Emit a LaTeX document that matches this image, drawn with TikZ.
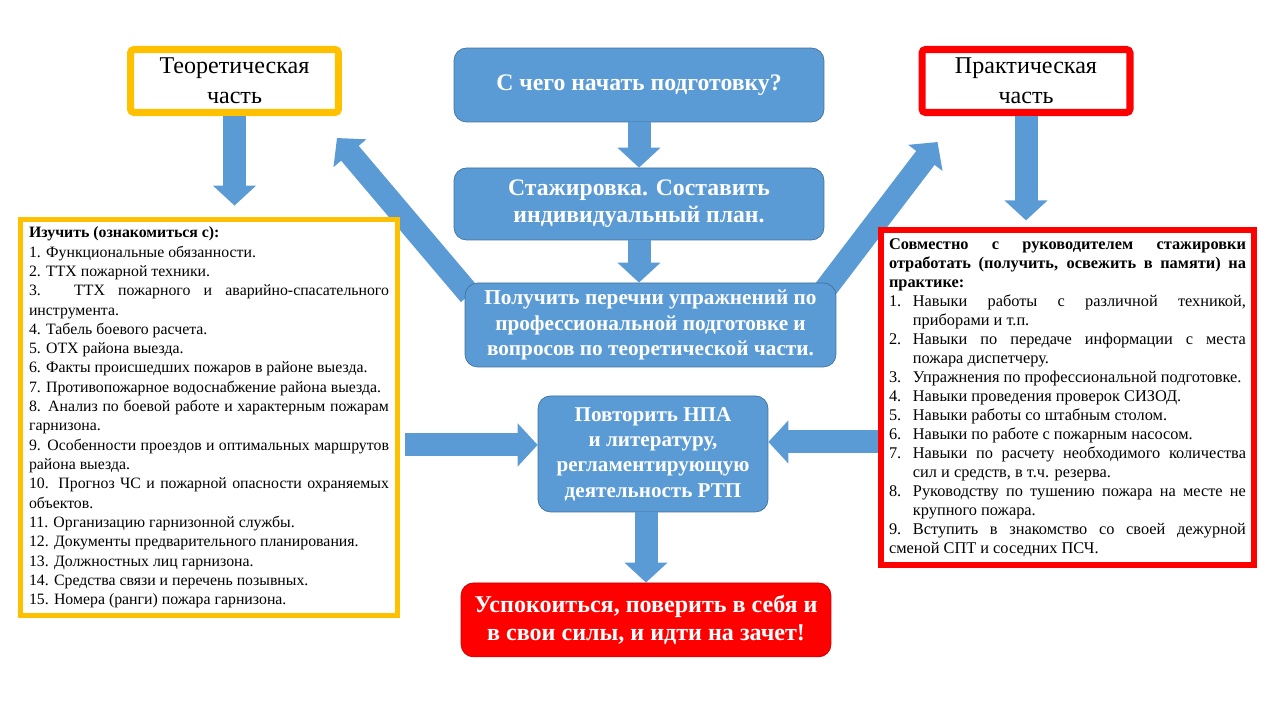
\documentclass[tikz,border=0pt]{standalone}
\usepackage{fontspec}
\setmainfont{Liberation Serif}
\usetikzlibrary{positioning, arrows.meta, backgrounds}
\definecolor{boxblue}{HTML}{5B9BD5}
\definecolor{edgeblue}{HTML}{41719C}
\definecolor{theoryorange}{HTML}{FFC000}
\definecolor{practicered}{HTML}{FF0000}
\definecolor{darkred}{HTML}{C00000}
\hyphenpenalty=10000
\exhyphenpenalty=10000
\tolerance=10000
\newcommand{\pitem}[2]{\par\hangindent=13.6pt\hangafter=1\noindent\makebox[13.6pt][l]{#1.}#2}
\tikzset{
blue box/.style={ % rounded blue blocks in the middle
rectangle, rounded corners=0.25cm,
fill=boxblue, draw=edgeblue, thin,
text=white, align=center, inner sep=2pt},
exam box/.style={blue box, fill=practicered, draw=darkred}, % last red block
part box/.style={ % framed titles of the two parts
rectangle, rounded corners=2pt, fill=white, line width=4pt,
minimum width=4.16cm, minimum height=1.26cm,
align=center, font=\fontsize{13.7}{17}\selectfont},
list box/.style={ % framed lists
rectangle, fill=white, line width=3pt, inner sep=0.15cm,
align=justify, font=\fontsize{9}{11}\selectfont},
fat arrow/.style={ % wide blue arrows
draw=boxblue, line width=0.46cm,
-{Triangle[length=0.4cm, width=0.84cm]}}}

\begin{document}
\begin{tikzpicture}[x=0.02cm, y=-0.02cm]
    \useasboundingbox (0,0) rectangle (1280,720);

    \node[blue box, minimum width=7.4cm, minimum height=1.48cm, font=\bfseries\fontsize{13.5}{16}\selectfont] (start) at (639,85) {С чего начать подготовку?};
    \node[blue box, node distance=2.38cm, below of=start, minimum width=7.4cm, minimum height=1.44cm, font=\bfseries\fontsize{13.5}{15.5}\selectfont] (plan) {Стажировка. Составить\\индивидуальный план.};
    \node[blue box, node distance=2.42cm, below of=plan, xshift=0.23cm, minimum width=7.42cm, minimum height=1.68cm, font=\bfseries\fontsize{12.1}{14.4}\selectfont] (lists) {Получить перечни упражнений по\\профессиональной подготовке и\\вопросов по теоретической части.};
    \node[blue box, node distance=2.58cm, below of=lists, xshift=0.05cm, minimum width=4.6cm, minimum height=2.32cm, font=\bfseries\fontsize{12}{14.4}\selectfont] (npa) {Повторить НПА\\и литературу,\\регламентирующую\\деятельность РТП};
    \node[exam box, node distance=3.32cm, below of=npa, xshift=-0.14cm, minimum width=7.4cm, minimum height=1.48cm, font=\bfseries\fontsize{13.7}{16.4}\selectfont] (exam) {Успокоиться, поверить в себя и\\в свои силы, и идти на зачет!};

    \node[part box, draw=theoryorange] (theory) at (234.5,81) {Теоретическая\\часть};
    \node[part box, draw=practicered] (practice) at (1026,81) {Практическая\\часть};

    \node[list box, draw=theoryorange, text width=7.2cm, minimum width=7.54cm, minimum height=7.87cm] (study) at (209,417.5) {%
    \textbf{Изучить (ознакомиться с):}\par
    1. Функциональные обязанности.\par
    2. ТТХ пожарной техники.\par
    3. ТТХ пожарного и аварийно-спасательного инструмента.\par
    4. Табель боевого расчета.\par
    5. ОТХ района выезда.\par
    6. Факты происшедших пожаров в районе выезда.\par
    7. Противопожарное водоснабжение района выезда.\par
    8. Анализ по боевой работе и характерным пожарам гарнизона.\par
    9. Особенности проездов и оптимальных маршрутов района выезда.\par
    10. Прогноз ЧС и пожарной опасности охраняемых объектов.\par
    11. Организацию гарнизонной службы.\par
    12. Документы предварительного планирования.\par
    13. Должностных лиц гарнизона.\par
    14. Средства связи и перечень позывных.\par
    15. Номера (ранги) пожара гарнизона.};
    \node[list box, draw=practicered, text width=7.14cm, minimum width=7.46cm, minimum height=6.7cm, font=\fontsize{9.3}{10.8}\selectfont] (skills) at (1067.5,397.5) {%
    \textbf{Совместно с руководителем стажировки отработать (получить, освежить в памяти) на практике:}
    \pitem{1}{Навыки работы с различной техникой, приборами и т.п.}
    \pitem{2}{Навыки по передаче информации с места пожара диспетчеру.}
    \pitem{3}{Упражнения по профессиональной подготовке.}
    \pitem{4}{Навыки проведения проверок СИЗОД.}
    \pitem{5}{Навыки работы со штабным столом.}
    \pitem{6}{Навыки по работе с пожарным насосом.}
    \pitem{7}{Навыки по расчету необходимого количества сил и средств, в т.ч. резерва.}
    \pitem{8}{Руководству по тушению пожара на месте не крупного пожара.}
    \pitem{9}{Вступить в знакомство со своей дежурной сменой СПТ и соседних ПСЧ.}};

    \draw[fat arrow] (start) -- (plan);
    \draw[fat arrow] (plan.south) -- (plan.south |- lists.north);
    \draw[fat arrow] (npa.south -| exam.north) -- (exam.north);
    \draw[fat arrow, shorten >=0.22cm] (theory.south) -- (theory.south |- study.north);
    \draw[fat arrow, shorten >=0.14cm] (practice.south) -- (practice.south |- skills.north);
    \coordinate (npa left) at ([shift={(0,-9)}]npa.west);
    \coordinate (npa right) at ([shift={(0,-12)}]npa.east);
    \draw[fat arrow, shorten <=0.1cm] (study.east |- npa left) -- (npa left);
    \draw[fat arrow] (skills.west |- npa right) -- (npa right);

    \begin{scope}[on background layer]
    \draw[fat arrow] ([shift={(5,12)}]lists.north west) -- ([shift={(-5,22)}]theory.south east);
    \draw[fat arrow] ([shift={(-12,8)}]lists.north east) -- ([shift={(19,26)}]practice.south west);
    \end{scope}

\end{tikzpicture}
\end{document}
